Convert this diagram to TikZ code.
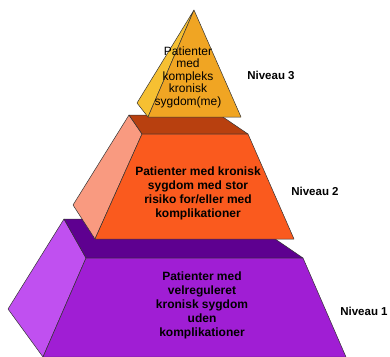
\documentclass[tikz,border=0pt]{standalone}
\usepackage{fontspec}
\setmainfont{Liberation Sans}
\usetikzlibrary{calc}

\definecolor{topfront}{RGB}{240,165,35}
\definecolor{topside}{RGB}{246,192,50}
\definecolor{midfront}{RGB}{250,90,30}
\definecolor{midside}{RGB}{249,154,128}
\definecolor{midtop}{RGB}{184,64,15}
\definecolor{lowfront}{RGB}{160,30,212}
\definecolor{lowside}{RGB}{192,80,240}
\definecolor{lowtop}{RGB}{94,0,144}

\tikzset{face/.style={draw=black!80,line width=0.5pt,line join=round},
  tiertext/.style={align=center,font=\bfseries\fontsize{12}{14}\selectfont},
  leveltext/.style={font=\bfseries\fontsize{11.5}{13}\selectfont}}

\begin{document}
\begin{tikzpicture}[x=1pt,y=-1pt]
\useasboundingbox (0,0) rectangle (390,356);
% bottom tier
\coordinate (L1) at (64,219); \coordinate (L2) at (246,219); \coordinate (L3) at (303,258); \coordinate (L4) at (86,258);
\coordinate (L5) at (346,357); \coordinate (L6) at (43,357); \coordinate (L7) at (8,309);
\draw[face,fill=lowside] (L1)--(L4)--(L6)--(L7)--cycle;
\draw[face,fill=lowtop] (L1)--(L2)--(L3)--(L4)--cycle;
\draw[face,fill=lowfront] (L4)--(L3)--(L5)--(L6)--cycle;
% middle tier
\coordinate (M1) at (129,115); \coordinate (M2) at (220,115); \coordinate (M3) at (248,134); \coordinate (M4) at (142,134);
\coordinate (M5) at (294,239); \coordinate (M6) at (95,239); \coordinate (M7) at (73,205);
\draw[face,fill=midside] (M1)--(M4)--(M6)--(M7)--cycle;
\draw[face,fill=midtop] (M1)--(M2)--(M3)--(M4)--cycle;
\draw[face,fill=midfront] (M4)--(M3)--(M5)--(M6)--cycle;
% top pyramid
\coordinate (T0) at (194,10); \coordinate (T1) at (148,117); \coordinate (T2) at (241,117); \coordinate (T3) at (137,103);
\draw[face,fill=topside] (T0)--(T3)--(T1)--cycle;
\draw[face,fill=topfront] (T0)--(T1)--(T2)--cycle;
% texts
\node[align=center,font=\fontsize{12}{12.5}\selectfont] (toptext) at (188,77) {Patienter\\med\\kompleks\\kronisk\\sygdom(me)};
\node[tiertext] (midtext) at (198,193) {Patienter med kronisk\\sygdom med stor\\risiko for/eller med\\komplikationer};
\node[tiertext] (lowtext) at (202,305) {Patienter med\\velreguleret\\kronisk sygdom\\uden\\komplikationer};
\node[leveltext] (level3) at (271,75) {Niveau 3};
\node[leveltext] (level2) at (315,191) {Niveau 2};
\node[leveltext] (level1) at (364,311) {Niveau 1};
\end{tikzpicture}
\end{document}
